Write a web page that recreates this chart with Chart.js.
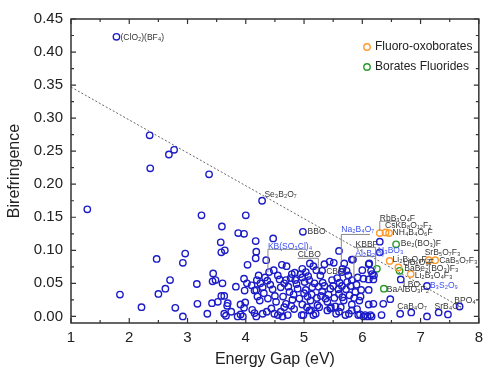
<!DOCTYPE html>
<html>
<head>
<meta charset="utf-8">
<script src="https://cdn.jsdelivr.net/npm/chart.js@4/dist/chart.umd.min.js"></script>
<style>
  body { margin: 0; background: #fff; }
  #wrap { width: 489px; height: 368px; }
</style>
</head>
<body>
<div id="wrap"><canvas id="Scatter_Chart"></canvas></div>
<script>
// borates (blue open circles)
var blueX = [1.78,1.28,1.84,2.21,2.35,2.36,2.47,2.50,2.62,2.68,2.70,2.77,2.79,2.92,2.92,2.96,3.16,3.17,3.24,3.34,
  3.37,3.42,3.43,3.44,3.48,3.52,3.57,3.58,3.58,3.59,3.60,3.63,3.63,3.64,3.66,3.68,3.69,3.75,3.83,3.86,
  3.87,3.91,3.91,3.95,3.97,3.97,3.97,3.98,3.99,4.00,4.02,4.03,4.10,4.11,4.15,4.15,4.17,4.18,4.17,4.18,
  4.19,4.20,4.22,4.18,4.28,4.47,4.70,4.98,5.60,5.44,5.51,5.69,5.82,4.40,4.48,4.84,4.97,5.03,5.16,5.21,
  5.31,5.82,5.92,5.76,4.33,4.37,4.58,4.69,4.79,4.85,4.97,5.09,5.28,5.32,5.48,5.61,4.29,4.46,4.60,4.75,
  4.89,5.03,5.14,5.31,5.45,5.60,5.72,5.88,4.24,4.38,4.52,4.69,4.80,4.97,5.11,5.23,5.40,5.54,5.68,5.82,
  5.95,4.29,4.44,4.60,4.72,5.09,5.20,5.45,5.60,5.71,5.82,5.93,4.36,4.49,4.55,4.63,4.66,4.78,4.83,4.96,
  4.99,5.05,5.12,5.16,5.26,5.40,5.46,5.55,5.63,5.77,5.91,6.05,6.14,6.19,6.33,6.36,6.30,6.30,6.11,6.15,
  6.20,6.17,6.02,6.11,6.19,6.11,5.97,6.11,6.02,6.09,6.16,5.96,6.48,6.65,6.84,7.11,7.31,7.47,7.67,6.66,
  7.11,5.65,4.25,4.31,4.42,4.50,4.55,4.64,4.66,4.73,4.77,4.82,4.87,4.92,4.94,5.00,5.01,5.06,5.07,5.13,
  5.18,5.22,5.25,5.29,5.35,5.37,5.42,5.50,5.52,5.57,5.59,5.65,5.66,5.74,5.78,5.80,5.86,5.90,5.98,6.00,
  5.73,5.35,5.10,4.62,4.35,5.66,6.12,5.84];
var blueY = [0.423,0.162,0.033,0.014,0.274,0.224,0.087,0.034,0.042,0.245,0.055,0.252,0.013,0.000,0.081,0.095,0.049,0.019,0.153,0.004,
  0.215,0.020,0.053,0.065,0.055,0.022,0.112,0.097,0.031,0.136,0.050,0.031,0.004,0.100,0.001,0.016,0.020,0.007,0.045,0.000,
  0.126,0.018,0.003,0.000,0.125,0.057,0.013,0.039,0.021,0.153,0.050,0.078,0.047,0.010,0.039,0.005,0.114,0.098,0.088,0.000,
  0.055,0.030,0.062,0.040,0.175,0.118,0.076,0.128,0.099,0.083,0.081,0.080,0.086,0.067,0.070,0.066,0.072,0.067,0.076,0.070,
  0.069,0.055,0.059,0.062,0.059,0.054,0.056,0.055,0.064,0.055,0.059,0.055,0.062,0.051,0.055,0.051,0.044,0.041,0.044,0.037,
  0.042,0.040,0.044,0.038,0.042,0.034,0.041,0.037,0.024,0.027,0.022,0.019,0.025,0.018,0.024,0.017,0.022,0.015,0.024,0.018,
  0.024,0.004,0.012,0.007,0.002,0.009,0.004,0.012,0.007,0.002,0.009,0.002,0.007,0.004,0.002,0.000,0.014,0.016,0.011,0.002,
  0.002,0.014,0.009,0.002,0.014,0.009,0.014,0.004,0.014,0.004,0.011,0.002,0.002,0.019,0.002,0.019,0.113,0.097,0.079,0.069,
  0.062,0.064,0.057,0.056,0.056,0.040,0.030,0.018,0.000,0.000,0.000,0.003,0.026,0.004,0.006,0.000,0.006,0.003,0.015,0.056,
  0.046,0.067,0.050,0.035,0.048,0.031,0.062,0.030,0.050,0.045,0.058,0.033,0.049,0.027,0.064,0.035,0.052,0.030,0.061,0.033,
  0.050,0.028,0.045,0.031,0.046,0.027,0.033,0.046,0.028,0.058,0.041,0.046,0.029,0.052,0.032,0.046,0.028,0.048,0.040,0.070,
  0.069,0.079,0.080,0.078,0.085,0.072,0.080,0.086];

// fluoro-oxoborates (orange)
var fluoroX = [6.30,6.40,6.46,6.47,6.62,6.83,7.14,7.25];
var fluoroY = [0.126,0.127,0.126,0.084,0.074,0.064,0.085,0.085];

// borates fluorides (green)
var fluoridesX = [6.58,6.64,6.25,6.37];
var fluoridesY = [0.109,0.069,0.072,0.042];

// dotted trend line
var trendX = [1.0, 7.67];
var trendY = [0.347, 0.015];

var xTicks = [1,2,3,4,5,6,7,8];
var yTicks = [0,0.05,0.10,0.15,0.20,0.25,0.30,0.35,0.40,0.45];

// compound names
var names = ["(ClO\u2082)(BF\u2084)","Se\u2083B\u2082O\u2087","BBO","Na\u2082B\u2084O\u2087","KB(SO\u2083Cl)\u2084","CLBO","CBO","KBBF",
  "Al\u2082B\u2082O\u2087","RbB\u2083O\u2084F","CsKB\u2088O\u2081\u2082F\u2082","NH\u2084B\u2084O\u2086F","Be\u2082(BO\u2083)F","H\u2083BO\u2083",
  "Li\u2082B\u2086O\u2089F\u2082","SrB\u2085O\u2087F\u2083","CaB\u2085O\u2087F\u2083","LiB\u2086O\u2089F","BaBe\u2082(BO\u2083)F\u2083",
  "Li\u2082B\u2083O\u2084F\u2083","LBO","B\u2083S\u2082O\u2089","BaAlBO\u2083F\u2082","CaB\u2084O\u2087","SrB\u2084O\u2087","BPO\u2084"];
var nameX = [1.85,4.32,5.06,5.64,4.38,4.89,5.38,5.885,5.88,6.30,6.39,6.52,6.66,6.27,6.52,7.07,7.32,6.70,6.72,6.90,6.70,7.16,6.42,6.60,7.24,7.58];
var nameY = [0.4223,0.184,0.128,0.132,0.106,0.094,0.068,0.109,0.095,0.148,0.138,0.126,0.110,0.0995,0.0864,0.096,0.085,0.0808,0.0723,0.062,0.048,0.046,0.0405,0.015,0.015,0.024];
var blueNames = ["Na\u2082B\u2084O\u2087","KB(SO\u2083Cl)\u2084","Al\u2082B\u2082O\u2087","H\u2083BO\u2083","B\u2083S\u2082O\u2089"];

// bracket lines joining names to their points
var brackets = [
  [[4.38,0.0667],[4.38,0.1015],[5.04,0.1015]],
  [[4.89,0.0879],[5.245,0.0879],[5.245,0.0697]],
  [[5.64,0.083],[5.64,0.124],[6.13,0.124]],
  [[5.856,0.1045],[6.229,0.1045],[6.229,0.0712]],
  [[5.856,0.0576],[5.856,0.0909],[6.229,0.0909]],
  [[6.30,0.129],[6.30,0.144],[6.59,0.144]]
];

function pts(xs, ys){
  return xs.map(function(x, i){ return {x: x, y: ys[i]}; });
}

var FONT = "'Liberation Sans', Arial, sans-serif";

var framePlugin = {
  id: 'frame',
  afterDatasetsDraw: function(chart){
    var c = chart.ctx, a = chart.chartArea;
    var xs = chart.scales.x, ys = chart.scales.y;
    c.save();
    // brackets
    c.strokeStyle = '#888';
    c.lineWidth = 1;
    brackets.forEach(function(b){
      c.beginPath();
      b.forEach(function(p, i){
        var px = xs.getPixelForValue(p[0]), py = ys.getPixelForValue(p[1]);
        if (i === 0) c.moveTo(px, py); else c.lineTo(px, py);
      });
      c.stroke();
    });
    // names
    c.font = '8.5px ' + FONT;
    c.textBaseline = 'middle';
    c.textAlign = 'left';
    names.forEach(function(n, i){
      c.fillStyle = blueNames.indexOf(n) >= 0 ? '#3a4ef0' : '#333';
      c.fillText(n, xs.getPixelForValue(nameX[i]), ys.getPixelForValue(nameY[i]));
    });
    // frame
    c.strokeStyle = '#333';
    c.lineWidth = 1.5;
    c.strokeRect(a.left, a.top, a.right - a.left, a.bottom - a.top);
    c.lineWidth = 1.2;
    c.beginPath();
    for (var v = 1; v <= 8.001; v += 0.5){
      var px = xs.getPixelForValue(v), len = (Math.abs(v - Math.round(v)) < 1e-6) ? 5 : 3;
      c.moveTo(px, a.bottom); c.lineTo(px, a.bottom - len);
      c.moveTo(px, a.top); c.lineTo(px, a.top + len);
    }
    for (var k = 0; k <= 18; k++){
      var val = k * 0.025, py = ys.getPixelForValue(val), l2 = (k % 2 === 0) ? 5 : 3;
      c.moveTo(a.left, py); c.lineTo(a.left + l2, py);
      c.moveTo(a.right, py); c.lineTo(a.right - l2, py);
    }
    c.stroke();
    // legend
    var leg = [chart.data.datasets[1], chart.data.datasets[2]];
    c.font = '12px ' + FONT;
    leg.forEach(function(d, i){
      var ly = 47 + i * 20;
      c.beginPath();
      c.strokeStyle = d.borderColor;
      c.lineWidth = 1.4;
      c.arc(367, ly, 3.2, 0, Math.PI * 2);
      c.stroke();
      c.fillStyle = '#222';
      c.fillText(d.label, 375, ly);
    });
    c.restore();
  }
};

var ctx = document.getElementById('Scatter_Chart');
var myScatterChart = new Chart(ctx, {
  type: 'scatter',
  data: {
    datasets: [{
      label: 'Borates',
      data: pts(blueX, blueY),
      borderColor: '#1c1cc8',
      backgroundColor: 'rgba(0,0,0,0)',
      pointRadius: 3.2,
      borderWidth: 1.4
    }, {
      label: 'Fluoro-oxoborates',
      data: pts(fluoroX, fluoroY),
      borderColor: '#ff9a2e',
      backgroundColor: 'rgba(0,0,0,0)',
      pointRadius: 3.2,
      borderWidth: 1.4
    }, {
      label: 'Borates Fluorides',
      data: pts(fluoridesX, fluoridesY),
      borderColor: '#2a9a2a',
      backgroundColor: 'rgba(0,0,0,0)',
      pointRadius: 3.2,
      borderWidth: 1.4
    }, {
      label: 'trend',
      type: 'line',
      data: pts(trendX, trendY),
      borderColor: '#666',
      borderWidth: 1,
      borderDash: [2, 2],
      pointRadius: 0,
      fill: false
    }]
  },
  options: {
    responsive: true,
    maintainAspectRatio: false,
    animation: false,
    layout: { padding: { left: 0, right: 6, top: 19, bottom: 0 } },
    plugins: {
      legend: { display: false },
      tooltip: { enabled: false }
    },
    scales: {
      x: {
        type: 'linear',
        min: 1, max: 8,
        afterFit: function(s){ s.height = 45; },
        afterBuildTicks: function(s){ s.ticks = xTicks.map(function(v){ return {value: v}; }); },
        grid: { display: false, drawTicks: false },
        border: { display: false },
        ticks: { padding: 6, color: '#222', font: { size: 15, family: FONT } },
        title: { display: true, text: 'Energy Gap (eV)', color: '#222', padding: { top: 0, bottom: -1 }, font: { size: 16, family: FONT } }
      },
      y: {
        type: 'linear',
        min: -0.01, max: 0.45,
        afterFit: function(s){ s.width = 71; },
        afterBuildTicks: function(s){ s.ticks = yTicks.map(function(v){ return {value: v}; }); },
        grid: { display: false, drawTicks: false },
        border: { display: false },
        ticks: { padding: 8, color: '#222', font: { size: 15, family: FONT },
          callback: function(v){ return v.toFixed(2); } },
        title: { display: true, text: 'Birefringence', color: '#222', padding: { top: 5, bottom: 0 }, font: { size: 16, family: FONT } }
      }
    }
  },
  plugins: [framePlugin]
});
</script>
</body>
</html>
